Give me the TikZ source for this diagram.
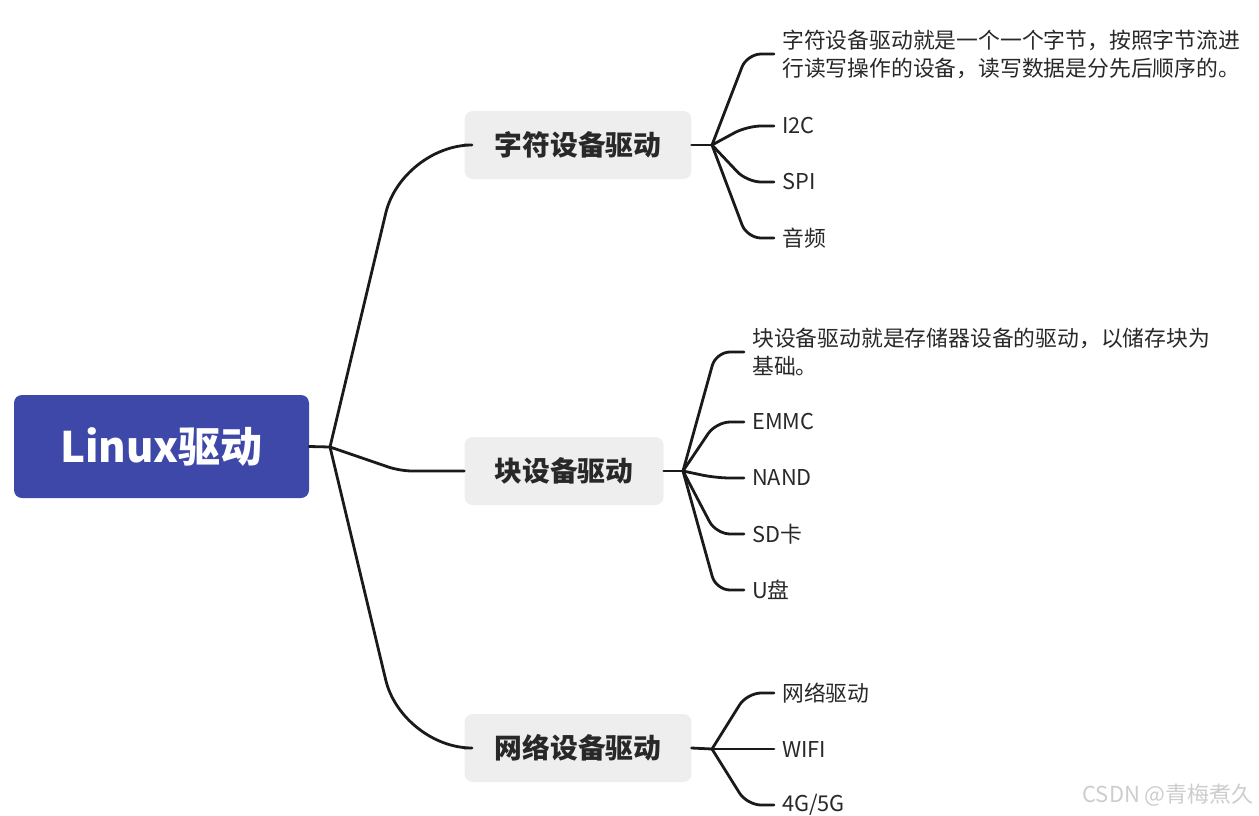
\documentclass[tikz,border=0pt]{standalone}
\usepackage{fontspec}
\setmainfont{Noto Sans CJK SC}
\newfontfamily\cjk{Noto Sans CJK SC}
\definecolor{rootblue}{RGB}{62,72,168}
\definecolor{branchgray}{RGB}{238,238,238}
\definecolor{linecol}{RGB}{26,26,26}
\definecolor{textcol}{RGB}{40,40,40}
\definecolor{markgray}{RGB}{205,205,205}
\begin{document}
\begin{tikzpicture}[x=1pt,y=-1pt,
  rootbox/.style={fill=rootblue, rounded corners=8pt, minimum width=295pt, minimum height=103pt,
    text=white, font=\cjk\fontsize{42}{50}\selectfont\bfseries, inner sep=0pt},
  branchbox/.style={fill=branchgray, rounded corners=8pt, minimum height=68pt, inner xsep=30pt,
    text=textcol, font=\cjk\fontsize{27.8}{32}\selectfont\bfseries},
  leafnode/.style={anchor=west, inner xsep=8pt, inner ysep=0pt, align=left, text=textcol,
    font=\cjk\fontsize{21.8}{28}\selectfont},
  conn/.style={draw=linecol, line width=2.8pt, line cap=round, line join=round},
  mainconn/.style={conn, rounded corners=70pt},
  leafconn/.style={conn, rounded corners=14pt}
]
\useasboundingbox (0,0) rectangle (1259,815);

% root
\node[rootbox] (root) at (161.5,446.5) {Linux驱动};
\coordinate (J0) at (330,447);

% branches
\node[branchbox] (b1) at (578,145) {字符设备驱动};
\node[branchbox] (b2) at (564,471) {块设备驱动};
\node[branchbox] (b3) at (578,748) {网络设备驱动};

\draw[conn] (root.east) -- (J0);
\draw[mainconn] (J0) -- (402,145) -- (b1.west);
\draw[conn, rounded corners=12pt] (J0) -- (400,471) -- (b2.west);
\draw[mainconn] (J0) -- (402,748) -- (b3.west);

% junctions
\coordinate (J1) at (712,145);
\coordinate (J2) at (683,471);
\coordinate (J3) at (712,749);
\coordinate (K1) at (747,145);
\coordinate (K2) at (716,471);
\coordinate (K3) at (747,749);

\draw[conn] (b1.east) -- (J1);
\draw[conn] (b2.east) -- (J2);
\draw[conn] (b3.east) -- (J3);

% leaves of branch 1
\node[leafnode] (l11) at (774,54) {字符设备驱动就是一个一个字节，按照字节流进\\行读写操作的设备，读写数据是分先后顺序的。};
\node[leafnode] (l12) at (774,126) {I2C};
\node[leafnode] (l13) at (774,182) {SPI};
\node[leafnode] (l14) at (774,238) {音频};

% leaves of branch 2
\node[leafnode] (l21) at (744,352) {块设备驱动就是存储器设备的驱动，以储存块为\\基础。};
\node[leafnode] (l22) at (744,422) {EMMC};
\node[leafnode] (l23) at (744,478) {NAND};
\node[leafnode] (l24) at (744,534) {SD卡};
\node[leafnode] (l25) at (744,590) {U盘};

% leaves of branch 3
\node[leafnode] (l31) at (774,693) {网络驱动};
\node[leafnode] (l32) at (774,749) {WIFI};
\node[leafnode] (l33) at (774,805) {4G/5G};

\foreach \l in {l11,l12,l13,l14}
  \draw[leafconn] (J1) -- (K1 |- \l.west) -- (\l.west);
\foreach \l in {l21,l22,l23,l24,l25}
  \draw[leafconn] (J2) -- (K2 |- \l.west) -- (\l.west);
\foreach \l in {l31,l32,l33}
  \draw[leafconn] (J3) -- (K3 |- \l.west) -- (\l.west);

% watermark
\node[anchor=east, inner sep=0pt, text=markgray, font=\cjk\fontsize{22}{26}\selectfont] (mark) at (1254,795) {CSDN @青梅煮久};
\end{tikzpicture}
\end{document}
